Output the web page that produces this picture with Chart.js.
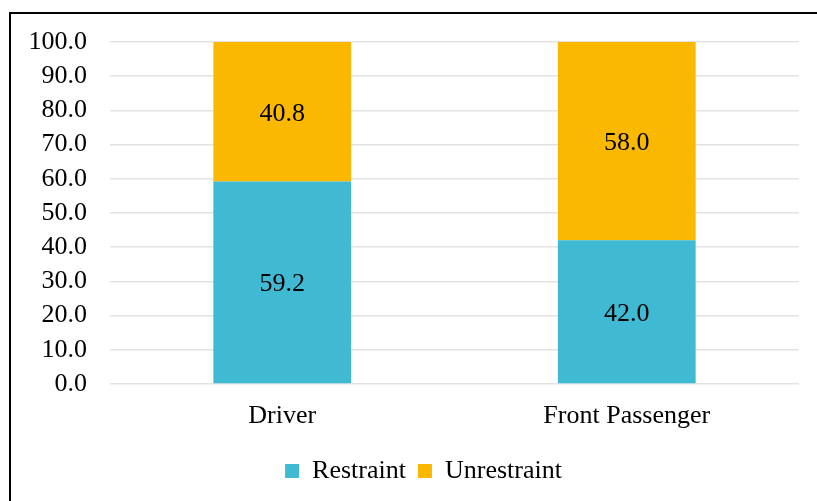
<!DOCTYPE html>
<html>
<head>
<meta charset="utf-8">
<script src="https://cdn.jsdelivr.net/npm/chart.js@4"></script>
<style>
    html, body { margin: 0; padding: 0; background: #fff; overflow: hidden; }
    #wrap { position: relative; width: 817px; height: 501px; }
    #frame {
        position: absolute; left: 9px; top: 12px; width: 900px; height: 600px;
        border-left: 2px solid #000; border-top: 2px solid #000;
        box-sizing: border-box; pointer-events: none;
    }
    canvas { position: absolute; left: 0; top: 0; }
</style>
</head>
<body>
<div id="wrap">
    <canvas id="chart" width="817" height="501"></canvas>
    <div id="frame"></div>
</div>
<script>
const categories = ['Driver', 'Front Passenger'];
const restraint = [59.2, 42.0];
const unrestraint = [40.8, 58.0];
const yTicks = [0, 10, 20, 30, 40, 50, 60, 70, 80, 90, 100];

const FONT = "'Liberation Serif', 'Times New Roman', serif";
const SIZE = 26;

// подписи значений в центре каждого сегмента
const segmentLabels = {
    id: 'segmentLabels',
    afterDatasetsDraw(chart) {
        const ctx = chart.ctx;
        ctx.save();
        ctx.font = SIZE + 'px ' + FONT;
        ctx.fillStyle = '#000';
        ctx.textAlign = 'center';
        ctx.textBaseline = 'middle';
        chart.data.datasets.forEach((ds, i) => {
            chart.getDatasetMeta(i).data.forEach((bar, j) => {
                const y = (bar.y + bar.base) / 2;
                ctx.fillText(ds.data[j].toFixed(1), bar.x, y + 2);
            });
        });
        ctx.restore();
    }
};

// легенда в оригинале центрирована по всей рамке, а она шире окна
const shiftLegend = {
    id: 'shiftLegend',
    afterLayout(chart) {
        chart.legend.left += 24;
        chart.legend.right += 24;
    }
};

new Chart(document.getElementById('chart'), {
    type: 'bar',
    data: {
        labels: categories,
        datasets: [
            { label: 'Restraint', data: restraint, backgroundColor: '#40B9D3' },
            { label: 'Unrestraint', data: unrestraint, backgroundColor: '#FBB800' }
        ]
    },
    options: {
        responsive: false,
        animation: false,
        devicePixelRatio: 1,
        categoryPercentage: 1,
        barPercentage: 0.4,
        layout: { padding: { top: 42, right: 18, bottom: 7, left: 0 } },
        plugins: {
            legend: {
                position: 'bottom',
                labels: {
                    font: { family: FONT, size: SIZE },
                    color: '#000',
                    boxWidth: 14,
                    boxHeight: 14,
                    padding: 12
                }
            },
            tooltip: { enabled: false }
        },
        scales: {
            x: {
                stacked: true,
                grid: { display: false, drawTicks: false },
                border: { display: false },
                ticks: { font: { family: FONT, size: SIZE }, color: '#000', padding: 17 },
                afterFit: (scale) => { scale.height = 62; }
            },
            y: {
                stacked: true,
                min: 0,
                max: 100,
                afterBuildTicks: (scale) => { scale.ticks = yTicks.map(v => ({ value: v })); },
                grid: { color: '#E3E3E3', lineWidth: 1.5, drawTicks: false },
                border: { display: false },
                ticks: {
                    font: { family: FONT, size: SIZE },
                    color: '#000',
                    padding: 23,
                    autoSkip: false,
                    callback: (v) => v.toFixed(1)
                },
                afterFit: (scale) => { scale.width = 110; }
            }
        }
    },
    plugins: [segmentLabels, shiftLegend]
});
</script>
</body>
</html>
